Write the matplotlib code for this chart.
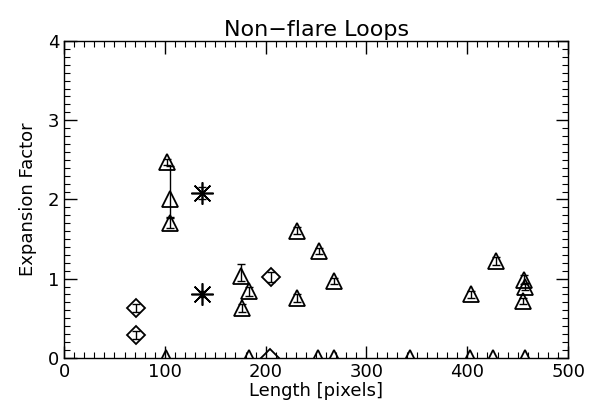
import matplotlib
matplotlib.use("Agg")
import matplotlib.pyplot as plt
import numpy as np

# triangles (with error bars)
tri_x = [102, 105, 105, 176, 183, 177, 231, 253, 268, 231, 404, 428, 456, 457, 455]
tri_y = [2.47, 2.00, 1.70, 1.03, 0.84, 0.63, 1.60, 1.35, 0.97, 0.76, 0.80, 1.22, 0.98, 0.90, 0.72]
tri_elo = [0.04, 0.22, 0.06, 0.06, 0.06, 0.05, 0.04, 0.04, 0.04, 0.05, 0.04, 0.05, 0.05, 0.04, 0.04]
tri_ehi = [0.04, 0.42, 0.06, 0.15, 0.06, 0.05, 0.05, 0.04, 0.04, 0.05, 0.04, 0.05, 0.06, 0.04, 0.04]

# diamonds
dia_x = [71, 71, 205]
dia_y = [0.63, 0.29, 1.02]
dia_err = [0.05, 0.05, 0.06]

# asterisks
ast_x = [137, 137]
ast_y = [2.08, 0.81]
ast_err = [0.08, 0.04]

# points sitting on the x axis (y = 0)
zero_tri_x = [101, 183, 252, 268, 343, 403, 426, 457]
zero_dia_x = [204]

fig = plt.figure(figsize=(5.93, 4.19), dpi=100)
ax = fig.add_axes([0.108, 0.146, 0.850, 0.756])

ekw = dict(fmt="none", ecolor="black", elinewidth=1.0, capsize=3, capthick=1.0)
ax.errorbar(tri_x, tri_y, yerr=[tri_elo, tri_ehi], **ekw)
ax.errorbar(dia_x, dia_y, yerr=dia_err, **ekw)
ax.errorbar(ast_x, ast_y, yerr=ast_err, **ekw)

ax.plot(tri_x, tri_y, ls="none", marker="^", ms=12, mfc="none", mec="black", mew=1.3)
ax.plot(dia_x, dia_y, ls="none", marker="D", ms=9, mfc="none", mec="black", mew=1.3)
ax.plot(ast_x, ast_y, ls="none", marker=(8, 2, 0), ms=16, mec="black", mew=1.2)
ax.plot(zero_tri_x, [0] * len(zero_tri_x), ls="none", marker="^", ms=12,
        mfc="none", mec="black", mew=1.3, clip_on=True)
ax.plot(zero_dia_x, [0] * len(zero_dia_x), ls="none", marker="D", ms=9,
        mfc="none", mec="black", mew=1.3, clip_on=True)

ax.set_xlim(0, 500)
ax.set_ylim(0, 4)
ax.set_xticks(np.arange(0, 501, 100))
ax.set_yticks(np.arange(0, 5, 1))
ax.set_xticks(np.arange(0, 501, 10), minor=True)
ax.set_yticks(np.arange(0, 4.01, 0.1), minor=True)
ax.tick_params(which="both", direction="in", top=True, right=True, labelsize=13)
ax.tick_params(which="major", length=9, width=1.0)
ax.tick_params(which="minor", length=4, width=0.8)
for s in ax.spines.values():
    s.set_linewidth(1.0)

ax.set_xlabel("Length [pixels]", fontsize=13, labelpad=1)
ax.set_ylabel("Expansion Factor", fontsize=13, labelpad=8)
ax.set_title("Non\u2212flare Loops", fontsize=16, pad=4)

fig.savefig("out.png", dpi=100)
